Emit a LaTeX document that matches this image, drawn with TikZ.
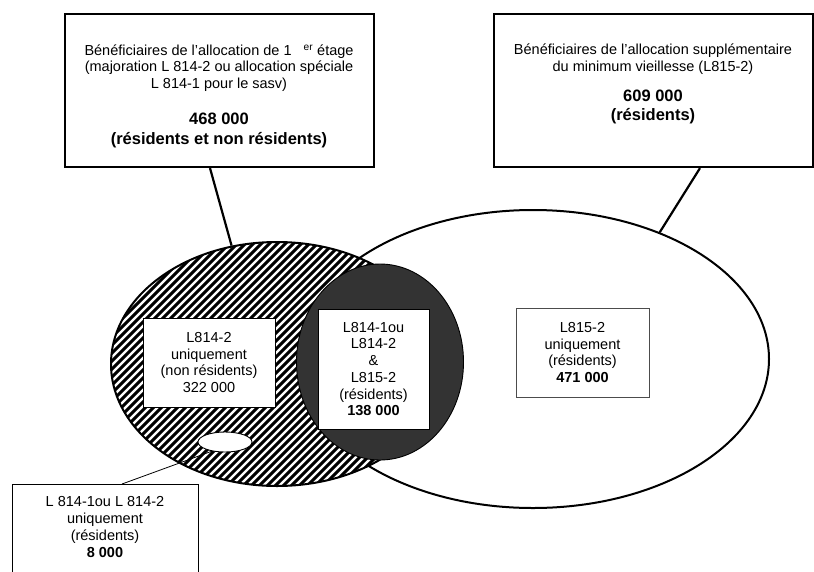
\documentclass[tikz,border=0pt]{standalone}
\usepackage{fontspec}
\setmainfont{Liberation Sans}
\usetikzlibrary{shapes.geometric}
\definecolor{sombre}{HTML}{333333}

\begin{document}
\begin{tikzpicture}[x=1pt,y=-1pt,
    texte/.style={align=center,inner sep=0pt,font=\fontsize{14.5}{16.7}\selectfont},
    cadre/.style={draw,line width=2.2pt,fill=white},
    boite/.style={draw,line width=0.9pt,fill=white,align=center,inner sep=0pt,
      font=\fontsize{14.5}{16.7}\selectfont},
    trait/.style={line width=2.2pt},
    hachure/.style={line width=3.1pt}]
  \newcommand{\gros}{\fontsize{16.5}{20}\selectfont\bfseries}
  \useasboundingbox (0,0) rectangle (814,571);
  \clip (0,0) rectangle (814,571);
  % les trois ensembles
  \node [ellipse,draw,line width=2pt,fill=white,minimum width=472,minimum height=298] (droite) at (533,359) {};
  \node [ellipse,draw,line width=2pt,fill=white,minimum width=332,minimum height=244,
    path picture={\foreach \i in {-304,-296,...,304}
      \draw [hachure] ([xshift=\i pt]path picture bounding box.center) ++(-200,200) -- ++(400,-400);}]
    (gauche) at (277,364) {};
  \node [ellipse,draw,line width=0.9pt,fill=sombre,minimum width=167,minimum height=196] (commun) at (380,362) {};
  \node [ellipse,draw,line width=0.9pt,fill=white,minimum width=54,minimum height=20] (petit) at (225,442) {};
  % boites du haut
  \node [cadre,minimum width=309,minimum height=153] (alloc1) at (219.5,90.5) {};
  \node [texte] (alloc1txt) at (219,96) {Bénéficiaires de l’allocation de 1\hspace{12pt}\textsuperscript{er} étage\\
    (majoration L 814-2 ou allocation spéciale\\L 814-1 pour le sasv)\\[19pt]
    \gros 468 000\\[3pt]\gros (résidents et non résidents)};
  \node [cadre,minimum width=319,minimum height=153] (alloc2) at (653.5,90.5) {};
  \node [texte] (alloc2txt) at (653,84) {Bénéficiaires de l’allocation supplémentaire\\
    du minimum vieillesse (L815-2)\\[13pt]\gros 609 000\\[2.5pt]\gros (résidents)};
  % boites du milieu
  \node [boite,minimum width=132,minimum height=89] (seul1) at (209,362.5) {L814-2\\uniquement\\(non résidents)\\322 000};
  \node [boite,minimum width=111,minimum height=120] (inter) at (373.5,369) {L814-1ou\\L814-2\\\&\\L815-2\\(résidents)\\\textbf{138 000}};
  \node [boite,draw=black!70,minimum width=133,minimum height=89] (seul2) at (582.5,352.5) {L815-2\\uniquement\\(résidents)\\\textbf{471 000}};
  % boite du bas
  \node [boite,minimum width=186,minimum height=95,anchor=north] (resid) at (105,484) {};
  \node [texte] (residtxt) at (105,527) {L 814-1ou L 814-2\\uniquement\\(résidents)\\\textbf{8 000}};
  % liens
  \draw [trait] ([xshift=-9.5pt]alloc1.south) -- (gauche.111);
  \draw [trait] ([xshift=46.5pt]alloc2.south) -- (droite.45);
  \draw [line width=0.8pt] (petit.215) -- ([xshift=17pt]resid.north);
\end{tikzpicture}
\end{document}
